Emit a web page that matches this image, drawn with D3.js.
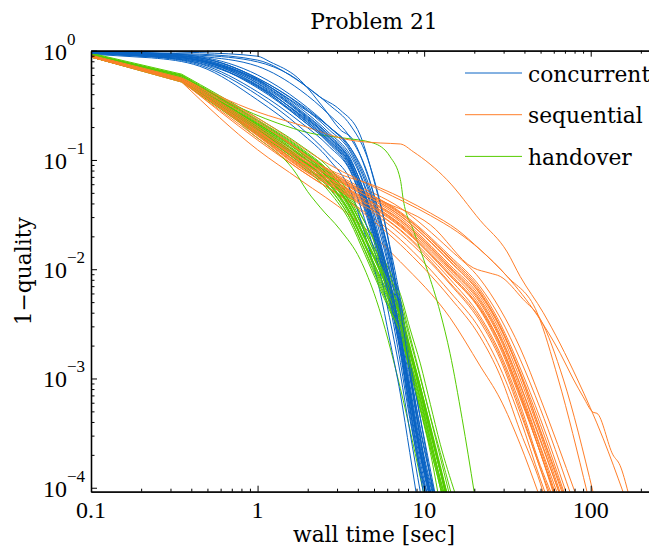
<!DOCTYPE html>
<html>
<head>
<meta charset="utf-8">
<script src="https://cdn.jsdelivr.net/npm/d3@7"></script>
<style>
body { margin: 0; background: #fff; }
svg { display: block; }
.word { font-family: "DejaVu Serif", serif; fill: #000; }
.num { font-family: "Liberation Serif", "Times New Roman", serif; fill: #000; }
</style>
</head>
<body>
<svg id="chart"></svg>
<script>

// runs: [wall time (s), 1-quality]
var concurrentRuns = [
	[[0.1,0.97],[0.23,0.91],[0.45,0.82],[1,0.52],[1.8,0.275],[2.7,0.16],[3.6,0.096],[4.5,0.039],[5.4,0.015],[6.2,0.0065],[7.2,0.0021],[8.2,0.00065],[9.5,0.00019],[10.6,0.00009]],
	[[0.1,0.99],[0.23,0.95],[0.45,0.88],[1,0.6],[1.8,0.34],[2.7,0.2],[3.6,0.124],[4.5,0.059],[5.4,0.025],[6.2,0.0103],[7.2,0.0035],[8.2,0.00104],[9.5,0.00028],[11.3,0.00009]],
	[[0.1,0.95],[0.23,0.88],[0.45,0.76],[1,0.42],[1.8,0.223],[2.7,0.132],[3.6,0.079],[4.5,0.031],[5.4,0.0115],[6.2,0.0048],[7.2,0.0014],[8.2,0.00043],[10.1,0.00009]],
	[[0.1,0.99],[0.23,0.98],[0.45,0.96],[1,0.89],[1.19,0.79],[1.73,0.57],[2.47,0.305],[3.13,0.19],[3.75,0.152],[4.5,0.078],[5.4,0.031],[6.2,0.0123],[7.2,0.0037],[8.2,0.0011],[9.5,0.00028],[10.7,0.00009]],
	[[0.1,0.99],[0.45,0.91],[1,0.79],[1.57,0.6],[2.37,0.377],[3.13,0.287],[4.13,0.169],[5.08,0.059],[6.08,0.0187],[6.98,0.0053],[8.0,0.0015],[9.2,0.00038],[10.9,0.00009]],
	[[0.1,0.97],[0.23,0.93],[0.45,0.84],[1,0.54],[1.8,0.3],[2.7,0.176],[3.6,0.111],[4.5,0.051],[5.4,0.019],[6.2,0.0081],[7.2,0.0025],[8.2,0.00078],[9.5,0.00022],[10.9,0.00009]],
	[[0.1,0.97],[0.23,0.91],[0.45,0.81],[1,0.486],[1.8,0.258],[2.7,0.152],[3.6,0.09],[4.5,0.036],[5.4,0.0136],[6.2,0.0059],[7.2,0.0019],[8.2,0.00055],[9.5,0.00015],[10.4,0.00009]],
	[[0.1,0.95],[0.23,0.89],[0.45,0.79],[1,0.456],[1.8,0.24],[2.7,0.143],[3.6,0.085],[4.5,0.035],[5.4,0.0128],[6.2,0.0053],[7.2,0.0017],[8.2,0.00047],[9.9,0.00009]],
	[[0.1,0.93],[0.23,0.86],[0.45,0.72],[1,0.354],[1.8,0.18],[2.7,0.1],[3.6,0.053],[4.5,0.0187],[5.4,0.0065],[6.2,0.0023],[7.2,0.00072],[8.2,0.00021],[8.95,0.00009]],
	[[0.1,0.97],[0.23,0.93],[0.45,0.86],[1,0.56],[1.8,0.319],[2.7,0.188],[3.6,0.119],[4.5,0.053],[5.4,0.022],[6.2,0.0095],[7.2,0.0031],[8.2,0.00089],[9.5,0.00025],[11.2,0.00009]],
	[[0.1,0.99],[0.23,0.95],[0.45,0.89],[1,0.72],[1.8,0.437],[2.7,0.258],[3.6,0.16],[4.5,0.081],[5.4,0.031],[6.2,0.0136],[7.2,0.0043],[8.2,0.00122],[9.5,0.00035],[11.5,0.00009]],
	[[0.1,0.95],[0.23,0.89],[0.45,0.77],[1,0.476],[1.8,0.262],[2.7,0.16],[3.6,0.1],[4.5,0.045],[5.4,0.0168],[6.2,0.0073],[7.2,0.0024],[8.2,0.00068],[9.5,0.0002],[10.7,0.00009]],
	[[0.1,0.97],[0.23,0.93],[0.45,0.84],[1,0.54],[1.8,0.31],[2.7,0.2],[3.6,0.13],[4.5,0.068],[5.4,0.029],[6.2,0.0136],[7.2,0.0048],[8.2,0.0014],[9.5,0.00043],[11.6,0.00009]],
	[[0.1,0.97],[0.23,0.91],[0.45,0.82],[1,0.5],[1.8,0.253],[2.7,0.146],[3.6,0.088],[4.5,0.038],[5.4,0.0145],[6.2,0.0063],[7.2,0.0019],[8.2,0.00058],[9.5,0.00017],[10.4,0.00009]],
	[[0.1,0.95],[0.23,0.88],[0.45,0.74],[1,0.393],[1.8,0.2],[2.7,0.111],[3.6,0.066],[4.5,0.0255],[5.4,0.0097],[6.2,0.0036],[7.2,0.0011],[8.2,0.00033],[9.5,0.00009]],
	[[0.1,0.99],[0.23,0.93],[0.45,0.86],[1,0.55],[1.8,0.287],[2.7,0.169],[3.6,0.104],[4.5,0.043],[5.4,0.0168],[6.2,0.0077],[7.2,0.0025],[8.2,0.00078],[9.5,0.00023],[11.0,0.00009]],
	[[0.1,0.99],[0.45,0.93],[1,0.82],[1.8,0.517],[2.7,0.319],[3.6,0.209],[4.5,0.111],[5.4,0.043],[6.2,0.0168],[7.2,0.0053],[8.2,0.0015],[9.5,0.00043],[11.3,0.00009]],
	[[0.1,0.97],[0.23,0.91],[0.45,0.81],[1,0.476],[1.8,0.24],[2.7,0.14],[3.6,0.081],[4.5,0.033],[5.4,0.0128],[6.2,0.0055],[7.2,0.0018],[8.2,0.00053],[9.5,0.00015],[10.2,0.00009]],
	[[0.1,0.97],[0.23,0.91],[0.45,0.81],[1,0.506],[1.8,0.27],[2.7,0.156],[3.6,0.094],[4.5,0.041],[5.4,0.0155],[6.2,0.0067],[7.2,0.0022],[8.2,0.00066],[9.5,0.0002],[10.7,0.00009]],
	[[0.1,0.95],[0.23,0.89],[0.45,0.79],[1,0.466],[1.8,0.248],[2.7,0.149],[3.6,0.092],[4.5,0.0413],[5.4,0.0171],[6.2,0.0075],[7.2,0.0025],[8.2,0.00074],[9.5,0.00021],[10.9,0.00009]],
	[[0.1,0.99],[0.23,0.93],[0.45,0.86],[1,0.56],[1.8,0.325],[2.7,0.2],[3.6,0.13],[4.5,0.063],[5.4,0.027],[6.2,0.0117],[7.2,0.0041],[8.2,0.00122],[9.5,0.00033],[11.5,0.00009]],
	[[0.1,0.97],[0.23,0.91],[0.45,0.82],[1,0.53],[1.8,0.28],[2.7,0.166],[3.6,0.1],[4.5,0.045],[5.4,0.0178],[6.2,0.0081],[7.2,0.0026],[8.2,0.0008],[9.5,0.00021],[10.9,0.00009]]
];

var sequentialRuns = [
	[[0.1,0.894],[0.35,0.54],[1,0.188],[1.8,0.1],[3.6,0.0554],[7.2,0.0295],[14.3,0.0109],[21.7,0.0056],[28.6,0.0027],[37.7,0.00099],[49.8,0.00031],[65.6,0.00009]],
	[[0.1,0.894],[0.35,0.551],[1,0.2],[1.8,0.1088],[3.6,0.0603],[7.2,0.0334],[14.3,0.0132],[21.7,0.0069],[28.6,0.0036],[37.7,0.0015],[49.8,0.00053],[75.3,0.00009]],
	[[0.1,0.876],[0.35,0.528],[1,0.176],[1.8,0.0919],[3.6,0.05],[7.2,0.026],[14.3,0.0096],[21.7,0.0046],[28.6,0.0021],[37.7,0.00074],[49.8,0.00023],[61.2,0.00009]],
	[[0.1,0.876],[0.35,0.517],[1,0.124],[1.8,0.0658],[3.6,0.031],[7.2,0.0117],[14.3,0.0036],[21.7,0.0013],[28.6,0.00065],[37.7,0.00025],[48.4,0.00009]],
	[[0.1,0.876],[0.35,0.528],[1,0.152],[1.8,0.0812],[3.6,0.0413],[7.2,0.0187],[14.3,0.0062],[21.7,0.0028],[28.6,0.00125],[37.7,0.00043],[49.8,0.00012],[53.3,0.00009]],
	[[0.1,0.894],[0.35,0.54],[1,0.169],[1.8,0.0881],[3.6,0.0468],[7.2,0.023],[14.3,0.0081],[21.7,0.0037],[28.6,0.0017],[37.7,0.00058],[49.8,0.00016],[57.9,0.00009]],
	[[0.1,0.894],[0.35,0.551],[1,0.196],[1.8,0.1043],[3.6,0.0578],[7.2,0.0321],[14.3,0.0127],[21.7,0.0065],[28.6,0.0032],[37.7,0.00125],[49.8,0.00043],[71.3,0.00009]],
	[[0.1,0.894],[0.35,0.54],[1,0.184],[1.8,0.098],[3.6,0.0533],[7.2,0.0284],[14.3,0.0105],[21.7,0.0053],[28.6,0.0025],[37.7,0.00089],[49.8,0.00028],[64.7,0.00009]],
	[[0.1,0.876],[0.35,0.528],[1,0.166],[1.8,0.0845],[3.6,0.0449],[7.2,0.021],[14.3,0.0073],[21.7,0.0033],[28.6,0.0015],[37.7,0.00049],[49.8,0.00015],[55.6,0.00009]],
	[[0.1,0.894],[0.35,0.551],[1,0.205],[1.8,0.1135],[3.6,0.0629],[7.2,0.0364],[14.3,0.0151],[21.7,0.0081],[28.6,0.0043],[37.7,0.0019],[49.8,0.00066],[80.7,0.00009]],
	[[0.1,0.894],[0.35,0.54],[1,0.18],[1.8,0.096],[3.6,0.0522],[7.2,0.0271],[14.3,0.01],[21.7,0.0049],[28.6,0.0023],[37.7,0.0008],[49.8,0.00024],[62.9,0.00009]],
	[[0.1,0.876],[0.35,0.517],[1,0.159],[1.8,0.0812],[3.6,0.0404],[7.2,0.0168],[14.3,0.0055],[21.7,0.0024],[28.6,0.00106],[37.7,0.00033],[49.8,0.00011],[51.9,0.00009]],
	[[0.1,0.894],[0.35,0.551],[1,0.192],[1.8,0.102],[3.6,0.0566],[7.2,0.0307],[14.3,0.0117],[21.7,0.0059],[28.6,0.0029],[37.7,0.0011],[49.8,0.00033],[67.4,0.00009]],
	[[0.1,0.876],[0.35,0.528],[1,0.173],[1.8,0.09],[3.6,0.048],[7.2,0.0244],[14.3,0.0087],[21.7,0.0042],[28.6,0.0019],[37.7,0.00066],[49.8,0.00021],[59.6,0.00009]],
	[[0.1,0.894],[0.35,0.54],[1,0.196],[1.8,0.107],[3.6,0.059],[7.2,0.0327],[14.3,0.0124],[21.7,0.0062],[28.6,0.003],[37.7,0.00115],[49.8,0.00038],[69.3,0.00009]],
	[[0.1,0.894],[0.35,0.54],[1,0.184],[1.8,0.096],[3.6,0.051],[7.2,0.0255],[14.3,0.0091],[21.7,0.0044],[28.6,0.0021],[37.7,0.00072],[49.8,0.00021],[60.4,0.00009]],
	[[0.1,0.894],[0.35,0.563],[1,0.275],[1.8,0.209],[3.6,0.152],[5.45,0.143],[7.2,0.14],[8.6,0.119],[13.7,0.066],[21.7,0.028],[31.5,0.0144],[37.7,0.0086],[51.9,0.004],[83,0.00099],[119,0.00028],[157,0.00009]],
	[[0.1,0.89],[0.35,0.55],[1,0.233],[2.72,0.081],[5.45,0.0554],[10.9,0.0327],[15.8,0.023],[21.7,0.0151],[31.5,0.0086],[47.7,0.0038],[65.6,0.0017],[78.5,0.00099],[90.1,0.00068],[103.5,0.00049],[109,0.00048],[136,0.0002],[150,0.00016],[168,0.00009]],
	[[0.1,0.913],[0.35,0.563],[1,0.242],[2.72,0.09],[5.45,0.053],[10.9,0.031],[15.8,0.022],[21.7,0.0151],[31.5,0.0086],[47.7,0.004],[63.8,0.00099],[95.3,0.00009]],
	[[0.1,0.89],[0.35,0.54],[1,0.223],[2.72,0.078],[5.45,0.043],[10.9,0.0255],[19.7,0.0103],[24.9,0.0092],[28.6,0.0086],[39.3,0.0053],[49.8,0.0035],[68.4,0.00099],[103.5,0.00009]],
	[[0.1,0.894],[0.35,0.54],[1,0.188],[1.8,0.098],[3.6,0.052],[7.2,0.028],[14.3,0.0103],[21.7,0.0051],[28.6,0.0024],[37.7,0.00087],[49.8,0.00027],[64.7,0.00009]],
	[[0.1,0.876],[0.35,0.528],[1,0.176],[1.8,0.092],[3.6,0.049],[7.2,0.025],[14.3,0.0088],[21.7,0.0043],[28.6,0.002],[37.7,0.00069],[49.8,0.00021],[60.4,0.00009]],
	[[0.1,0.894],[0.35,0.551],[1,0.196],[1.8,0.104],[3.6,0.0566],[7.2,0.031],[14.3,0.0119],[21.7,0.006],[28.6,0.003],[37.7,0.0011],[49.8,0.00034],[68.4,0.00009]],
	[[0.1,0.876],[0.35,0.528],[1,0.169],[1.8,0.086],[3.6,0.0458],[7.2,0.0226],[14.3,0.0075],[21.7,0.0035],[28.6,0.0016],[37.7,0.00053],[49.8,0.00015],[56.7,0.00009]]
];

var handoverRuns = [
	[[0.1,0.913],[0.35,0.563],[1,0.204],[1.8,0.111],[2.7,0.066],[3.6,0.035],[4.4,0.0187],[5.45,0.0094],[6.25,0.0058],[7.2,0.0036],[8.2,0.0017],[9.5,0.00072],[10.9,0.00031],[12.5,0.00014],[13.4,0.00009]],
	[[0.1,0.93],[0.35,0.59],[1,0.223],[1.8,0.124],[2.7,0.073],[3.6,0.041],[4.4,0.022],[5.45,0.011],[6.25,0.0068],[7.2,0.0041],[8.2,0.0019],[9.5,0.00083],[10.9,0.00035],[12.5,0.00015],[13.6,0.00009]],
	[[0.1,0.89],[0.35,0.54],[1,0.188],[1.8,0.1],[2.7,0.059],[3.6,0.031],[4.4,0.0165],[5.45,0.0081],[6.25,0.005],[7.2,0.003],[8.2,0.0014],[9.5,0.00062],[10.9,0.00026],[12.5,0.00011],[13.0,0.00009]],
	[[0.1,0.913],[0.35,0.575],[1,0.214],[1.8,0.119],[2.7,0.071],[3.6,0.04],[4.4,0.023],[5.45,0.0123],[6.25,0.0078],[7.2,0.0048],[8.2,0.0023],[9.5,0.001],[10.9,0.00044],[12.5,0.00019],[14.1,0.00009]],
	[[0.1,0.93],[0.35,0.6],[1,0.233],[1.8,0.13],[2.7,0.078],[3.6,0.043],[4.4,0.024],[5.45,0.0118],[6.25,0.007],[7.2,0.0043],[8.2,0.002],[9.5,0.00085],[10.9,0.00037],[12.5,0.00016],[13.7,0.00009]],
	[[0.1,0.876],[0.37,0.517],[0.6,0.354],[0.79,0.218],[1.8,0.066],[1.88,0.059],[2.37,0.037],[3.13,0.023],[4.13,0.0123],[5.15,0.0053],[7.2,0.00081],[10.0,0.000085]],
	[[0.1,0.89],[0.35,0.53],[1,0.18],[1.8,0.096],[2.7,0.056],[3.6,0.029],[4.4,0.0151],[5.45,0.0073],[6.25,0.0044],[7.2,0.0027],[8.2,0.00127],[9.5,0.00053],[10.9,0.00023],[12.5,0.0001],[12.7,0.00009]],
	[[0.1,0.913],[0.35,0.563],[1,0.214],[1.8,0.124],[2.7,0.078],[3.6,0.045],[4.4,0.027],[5.45,0.0145],[6.25,0.0094],[7.2,0.0059],[8.2,0.0029],[9.5,0.00136],[10.9,0.00058],[12.5,0.00025],[15.3,0.00009]],
	[[0.1,0.93],[0.35,0.575],[1,0.209],[1.8,0.117],[2.7,0.068],[3.6,0.038],[4.4,0.02],[5.45,0.0103],[6.25,0.0065],[7.2,0.0039],[8.2,0.0019],[9.5,0.0008],[10.9,0.00035],[12.5,0.00015],[13.6,0.00009]],
	[[0.1,0.876],[0.35,0.517],[1,0.17],[1.8,0.09],[2.7,0.051],[3.6,0.027],[4.4,0.0137],[5.45,0.0065],[6.25,0.0041],[7.2,0.0025],[8.2,0.0012],[9.5,0.00051],[10.9,0.00021],[12.1,0.00009]],
	[[0.1,0.913],[0.35,0.563],[1.31,0.218],[2.07,0.176],[3.26,0.159],[4.94,0.143],[6.25,0.107],[7.2,0.066],[7.5,0.043],[8.6,0.023],[10.4,0.01],[12.5,0.004],[14.3,0.0017],[16.9,0.00043],[20.0,0.00009]],
	[[0.1,0.913],[0.35,0.55],[1,0.2],[1.8,0.11],[2.7,0.066],[3.6,0.037],[4.4,0.0195],[5.45,0.01],[6.25,0.0061],[7.2,0.0037],[8.2,0.0018],[9.5,0.00077],[10.9,0.00033],[12.5,0.00014],[13.4,0.00009]],
	[[0.1,0.95],[0.35,0.61],[1,0.242],[1.8,0.137],[2.7,0.084],[3.6,0.048],[4.4,0.027],[5.45,0.0136],[6.25,0.0083],[7.2,0.0053],[8.2,0.0025],[9.5,0.00104],[10.9,0.00045],[12.5,0.00021],[14.5,0.00009]],
	[[0.1,0.89],[0.35,0.54],[1,0.19],[1.8,0.104],[2.7,0.062],[3.6,0.033],[4.4,0.017],[5.45,0.0085],[6.25,0.0053],[7.2,0.0032],[8.2,0.0015],[9.5,0.00065],[10.9,0.00028],[12.5,0.00012],[13.1,0.00009]],
	[[0.1,0.93],[0.35,0.59],[1,0.218],[1.8,0.119],[2.7,0.07],[3.6,0.037],[4.4,0.0195],[5.45,0.0098],[6.25,0.0062],[7.2,0.0038],[8.2,0.0018],[9.5,0.00078],[10.9,0.00034],[12.5,0.00015],[13.6,0.00009]],
	[[0.1,0.89],[0.35,0.55],[1,0.195],[1.8,0.104],[2.7,0.06],[3.6,0.032],[4.4,0.0165],[5.45,0.0077],[6.25,0.0048],[7.2,0.0029],[8.2,0.00136],[9.5,0.00058],[10.9,0.00025],[12.5,0.00011],[12.8,0.00009]],
	[[0.1,0.913],[0.35,0.563],[1,0.209],[1.8,0.113],[2.7,0.067],[3.6,0.0364],[4.4,0.0195],[5.45,0.0095],[6.25,0.0059],[7.2,0.0036],[8.2,0.0017],[9.5,0.00074],[10.9,0.00032],[12.5,0.00014],[13.4,0.00009]],
	[[0.1,0.89],[0.35,0.54],[1,0.188],[1.8,0.102],[2.7,0.0603],[3.6,0.0327],[4.4,0.0173],[5.45,0.0085],[6.25,0.0054],[7.2,0.0033],[8.2,0.0015],[9.5,0.00066],[10.9,0.00028],[12.5,0.00012],[13.2,0.00009]],
	[[0.1,0.93],[0.35,0.59],[1,0.228],[1.8,0.127],[2.7,0.075],[3.6,0.0404],[4.4,0.022],[5.45,0.011],[6.25,0.0068],[7.2,0.0042],[8.2,0.0019],[9.5,0.00083],[10.9,0.00036],[12.5,0.00015],[13.7,0.00009]],
	[[0.1,0.876],[0.35,0.528],[1,0.176],[1.8,0.094],[2.7,0.0545],[3.6,0.029],[4.4,0.0148],[5.45,0.0069],[6.25,0.0043],[7.2,0.0026],[8.2,0.00122],[9.5,0.00053],[10.9,0.00023],[12.5,0.0001],[12.7,0.00009]]
];

var seriesNames = ["concurrent", "sequential", "handover"];
var seriesColors = ["#0a64c4", "#ff7f2a", "#55cc00"];
var xMajor = [0.1, 1, 10, 100];
var xLabels = ["0.1", "1", "10", "100"];
var yExponents = [0, -1, -2, -3, -4];

var width = 649, height = 549;
var plotLeft = 91, plotRight = 657, plotTop = 50.7, plotBottom = 491.7;

var svg = d3.select("#chart")
	.attr("width", width)
	.attr("height", height)
	.style("background", "#fff");

var x = d3.scaleLog().domain([0.1, 250]).range([plotLeft, plotRight]);
var y = d3.scaleLog().domain([9.2e-5, 1]).range([plotBottom, plotTop]);

// minor ticks: 2..9 of every decade inside the domain
var xMinor = [];
[0.1, 1, 10, 100].forEach(function(d) {
	for (var k = 2; k <= 9; k++) if (d * k <= 250) xMinor.push(d * k);
});
var yMajor = yExponents.map(function(e) { return Math.pow(10, e); });
var yMinor = [];
[1e-4, 1e-3, 1e-2, 1e-1].forEach(function(d) {
	for (var k = 2; k <= 9; k++) yMinor.push(d * k);
});

svg.append("clipPath").attr("id", "plotclip")
	.append("rect")
	.attr("x", plotLeft).attr("y", plotTop)
	.attr("width", plotRight - plotLeft).attr("height", plotBottom - plotTop);

// straight first segment (sharp kink after it), smooth afterwards
var headLine = d3.line()
	.x(function(d) { return x(d[0]); })
	.y(function(d) { return y(d[1]); });
var tailLine = d3.line()
	.curve(d3.curveMonotoneX)
	.x(function(d) { return x(d[0]); })
	.y(function(d) { return y(d[1]); });

function runPath(run) {
	return headLine(run.slice(0, 2)) + tailLine(run.slice(1));
}

var plot = svg.append("g").attr("clip-path", "url(#plotclip)");

// runs are drawn interleaved, one of each kind at a time
var allRuns = [concurrentRuns, sequentialRuns, handoverRuns];
var maxRuns = d3.max(allRuns, function(r) { return r.length; });
for (var i = 0; i < maxRuns; i++) {
	for (var s = 0; s < 3; s++) {
		if (i < allRuns[s].length) {
			plot.append("path")
				.datum(allRuns[s][i])
				.attr("d", runPath)
				.attr("fill", "none")
				.attr("stroke", seriesColors[s])
				.attr("stroke-width", 1)
				.attr("stroke-linejoin", "round");
		}
	}
}

function tickAxis(axis, transform, values, size) {
	var g = svg.append("g")
		.attr("transform", transform)
		.call(axis.tickValues(values).tickSize(size).tickSizeOuter(0).tickFormat(""));
	g.selectAll(".tick line").attr("stroke", "#000").attr("stroke-width", 1);
	g.select(".domain").attr("stroke", "#000").attr("stroke-width", 1.3);
	return g;
}

// ticks point inward on every side
tickAxis(d3.axisTop(x), "translate(0," + plotBottom + ")", xMajor, 6);
tickAxis(d3.axisTop(x), "translate(0," + plotBottom + ")", xMinor, 3);
tickAxis(d3.axisBottom(x), "translate(0," + plotTop + ")", xMajor, 6);
tickAxis(d3.axisBottom(x), "translate(0," + plotTop + ")", xMinor, 3);
tickAxis(d3.axisRight(y), "translate(" + plotLeft + ",0)", yMajor, 6);
tickAxis(d3.axisRight(y), "translate(" + plotLeft + ",0)", yMinor, 3.5);

svg.selectAll(".xlabel")
	.data(xMajor)
	.enter()
	.append("text")
	.attr("class", "num")
	.attr("x", function(d) { return x(d); })
	.attr("y", 518)
	.attr("text-anchor", "middle")
	.style("font-size", "24px")
	.text(function(d, i) { return xLabels[i]; });

var ylab = svg.selectAll(".ylabel")
	.data(yExponents)
	.enter()
	.append("text")
	.attr("class", "num")
	.attr("x", 43)
	.attr("y", function(d) { return y(Math.pow(10, d)) + 9; })
	.style("font-size", "24px");
ylab.append("tspan").text("10");
ylab.append("tspan")
	.attr("dy", -15)
	.style("font-size", "17px")
	.text(function(d) { return d < 0 ? "\u2212" + (-d) : "" + d; });

svg.append("text")
	.attr("class", "word")
	.attr("x", (plotLeft + plotRight) / 2)
	.attr("y", 29)
	.attr("text-anchor", "middle")
	.style("font-size", "21.8px")
	.text("Problem 21");

svg.append("text")
	.attr("class", "word")
	.attr("x", (plotLeft + plotRight) / 2)
	.attr("y", 542)
	.attr("text-anchor", "middle")
	.style("font-size", "21.8px")
	.text("wall time [sec]");

svg.append("text")
	.attr("class", "word")
	.attr("transform", "translate(31," + ((plotTop + plotBottom) / 2) + ") rotate(-90)")
	.attr("text-anchor", "middle")
	.style("font-size", "21.8px")
	.text("1\u2212quality");

var legend = svg.selectAll(".legend")
	.data(seriesNames)
	.enter()
	.append("g")
	.attr("transform", function(d, i) { return "translate(465," + (73 + i * 41.7) + ")"; });
legend.append("line")
	.attr("x1", 0).attr("x2", 57)
	.attr("stroke", function(d, i) { return seriesColors[i]; })
	.attr("stroke-width", 1);
legend.append("text")
	.attr("class", "word")
	.attr("x", 63)
	.attr("y", 8.5)
	.style("font-size", "21.8px")
	.text(function(d) { return d; });

</script>
</body>
</html>
